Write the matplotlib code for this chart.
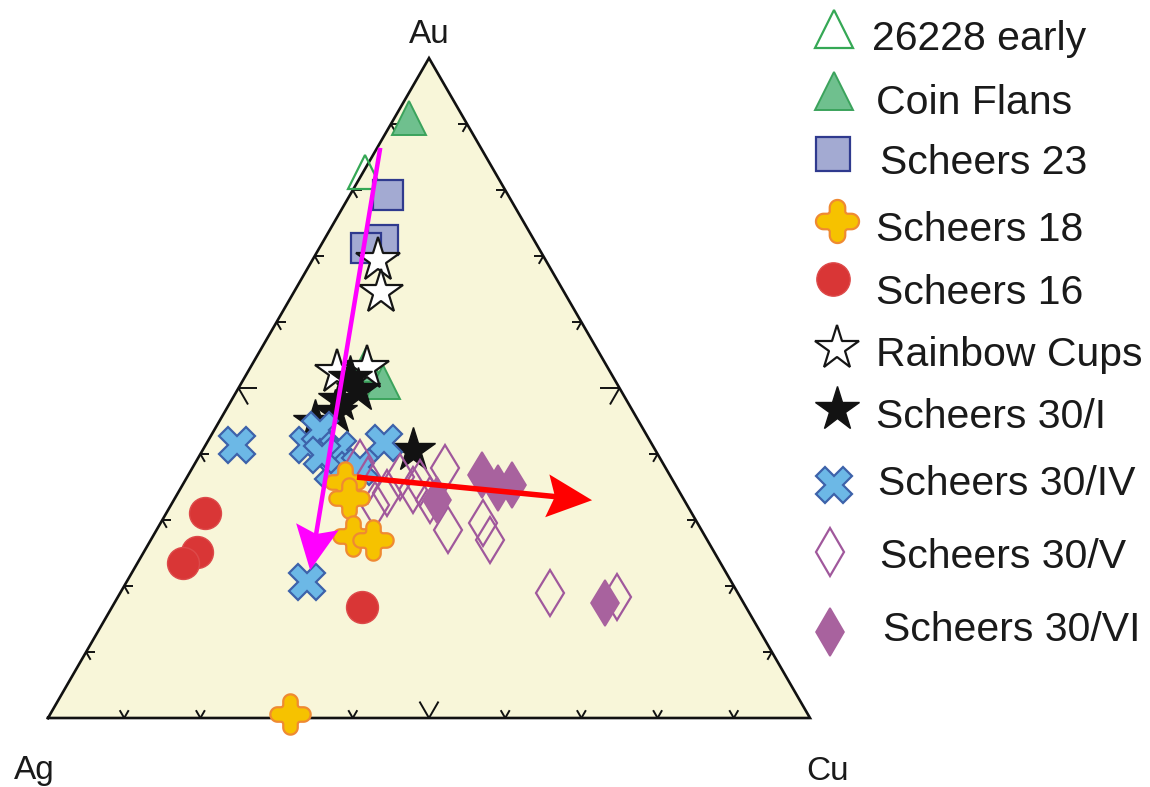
import numpy as np
import matplotlib
matplotlib.use("Agg")
import matplotlib.pyplot as plt
from matplotlib.path import Path

plt.rcParams['font.family'] = ['Liberation Sans', 'DejaVu Sans']

# compositions in % : Au and Cu, Ag is whatever is left
early_au = [82.7]
early_cu = [0.3]

flans_au = [90.9, 53.5, 50.9]
flans_cu = [1.9, 15.0, 18.5]

s23_au = [79.2, 72.4, 71.2]
s23_cu = [5.0, 7.8, 6.1]

cups_au = [69.4, 64.5, 52.4, 53.0]
cups_cu = [8.6, 11.4, 11.7, 15.4]

s30i_au = [51.5, 48.2, 46.4, 44.8, 40.6, 49.7]
s30i_cu = [13.9, 14.2, 14.5, 12.6, 27.6, 15.8]

s30iv_au = [41.4, 41.4, 43.6, 40.6, 41.7, 37.6, 38.0, 20.6, 39.8]
s30iv_cu = [4.1, 13.4, 13.9, 17.8, 23.2, 18.6, 21.9, 23.7, 16.1]

s30v_au = [38.6, 34.1, 36.5, 34.5, 35.6, 37.9, 28.5, 29.5, 27.0, 18.9, 18.3, 32.3, 33.0, 36.1]
s30v_cu = [21.6, 27.5, 27.9, 30.6, 31.0, 33.2, 38.2, 42.3, 44.5, 56.4, 65.5, 26.8, 33.6, 23.9]

s30vi_au = [33.0, 36.8, 34.8, 35.3, 17.4]
s30vi_cu = [34.5, 38.6, 41.7, 43.2, 64.4]

s18_au = [0.6, 35.8, 33.3, 27.6, 27.0]
s18_cu = [31.5, 21.1, 22.9, 26.2, 29.2]

s16_au = [31.1, 25.2, 23.5, 16.8]
s16_cu = [5.0, 7.0, 6.0, 32.8]

# trend arrows (tail -> head), Au / Cu %
mag_au = [86.4, 22.4]
mag_cu = [0.4, 23.2]
red_au = [36.5, 33.0]
red_cu = [22.3, 54.9]

ticks = [10, 20, 30, 40, 50, 60, 70, 80, 90]

H = np.sqrt(3) / 2
PX = 1 / 762.0


def tern(au, cu):
    au = np.asarray(au, float) / 100
    cu = np.asarray(cu, float) / 100
    return cu + au / 2, au * H


def round_cross(w=0.18, f=0.06, n=24):
    # cross with round arm tips and filleted inner corners
    pts = []
    for k in range(4):
        rot = k * np.pi / 2
        c, s = np.cos(rot), np.sin(rot)
        seg = []
        # tip arc of the arm pointing along +x
        a = np.linspace(-np.pi / 2, np.pi / 2, n)
        seg += list(zip(0.5 - w + w * np.cos(a), w * np.sin(a)))
        # concave fillet between this arm and the next one
        a = np.linspace(-np.pi / 2, -np.pi, n // 2)
        seg += list(zip(w + f + f * np.cos(a), w + f + f * np.sin(a)))
        pts += [(x * c - y * s, x * s + y * c) for x, y in seg]
    pts.append(pts[0])
    return Path(np.array(pts), closed=True)


blob = round_cross()

series = [
    ('26228 early', early_au, early_cu,
     dict(marker='^', ms=25, mfc='none', mec='#35a855', mew=1.6)),
    ('Coin Flans', flans_au, flans_cu,
     dict(marker='^', ms=24, mfc='#6fc08e', mec='#3ba35c', mew=1.4)),
    ('Scheers 23', s23_au, s23_cu,
     dict(marker='s', ms=22, mfc='#a3aad2', mec='#2f3a8e', mew=1.6)),
    ('Rainbow Cups', cups_au, cups_cu,
     dict(marker='*', ms=33, mfc='white', mec='#151515', mew=1.6)),
    ('Scheers 30/I', s30i_au, s30i_cu,
     dict(marker='*', ms=33, mfc='#121212', mec='#121212', mew=1.0)),
    ('Scheers 30/IV', s30iv_au, s30iv_cu,
     dict(marker='X', ms=26, mfc='#6cb8e6', mec='#3d62aa', mew=1.6)),
    ('Scheers 30/V', s30v_au, s30v_cu,
     dict(marker='d', ms=23, mfc='none', mec='#a0589c', mew=1.6)),
    ('Scheers 30/VI', s30vi_au, s30vi_cu,
     dict(marker='d', ms=23, mfc='#a8629e', mec='#a8629e', mew=1.2)),
    ('Scheers 18', s18_au, s18_cu,
     dict(marker=blob, ms=29, mfc='#f6c200', mec='#ef8a32', mew=1.6)),
    ('Scheers 16', s16_au, s16_cu,
     dict(marker='o', ms=23, mfc='#d93636', mec='#dd4a4a', mew=1.0)),
]

fig = plt.figure(figsize=(11.5, 7.87), dpi=100)
ax = fig.add_axes([0, 0, 1, 1])
ax.set_xlim(-48 * PX, 1102 * PX)
ax.set_ylim(-69 * PX, 718 * PX)
ax.axis('off')

# triangle
tri_x = [0, 1, 0.5, 0]
tri_y = [0, 0, H, 0]
ax.fill(tri_x, tri_y, color='#f8f6d9', zorder=0)
ax.plot(tri_x, tri_y, color='#111111', lw=1.9, zorder=1, solid_joinstyle='miter')

# ticks: two short arms along the directions of the other two sides
edges = [
    (lambda f: (f, 0.0), (60, 120)),              # Ag-Cu
    (lambda f: (f / 2, f * H), (0, -60)),         # Ag-Au
    (lambda f: (1 - f / 2, f * H), (180, 240)),   # Cu-Au
]
for t in ticks:
    L = (19 if t == 50 else 9) * PX
    for pos, angs in edges:
        px0, py0 = pos(t / 100)
        for a in angs:
            r = np.deg2rad(a)
            ax.plot([px0, px0 + L * np.cos(r)], [py0, py0 + L * np.sin(r)],
                    color='#111111', lw=1.4, zorder=1, solid_capstyle='butt')

for i, (name, au, cu, st) in enumerate(series):
    x, y = tern(au, cu)
    ax.plot(x, y, ls='none', zorder=2 + i * 0.1, **st)

# trend arrows
for au, cu, col, lw, hl in [(mag_au, mag_cu, '#ff00ff', 4.5, 44),
                            (red_au, red_cu, '#ff0000', 5.5, 45)]:
    x, y = tern(au, cu)
    ax.arrow(x[0], y[0], x[1] - x[0], y[1] - y[0], width=lw * PX,
             head_width=43 * PX, head_length=hl * PX, overhang=0.15,
             length_includes_head=True, color=col, lw=0, zorder=5)

# vertex labels
ax.text(0.5, H + 24 * PX, 'Au', ha='center', va='center', fontsize=24, color='#1a1a1a')
ax.text(-14 * PX, -53 * PX, 'Ag', ha='center', va='center', fontsize=24, color='#1a1a1a')
ax.text(1 + 18 * PX, -53 * PX, 'Cu', ha='center', va='center', fontsize=24, color='#1a1a1a')

# legend, laid out by hand
legend_order = ['26228 early', 'Coin Flans', 'Scheers 23', 'Scheers 18', 'Scheers 16',
                'Rainbow Cups', 'Scheers 30/I', 'Scheers 30/IV', 'Scheers 30/V',
                'Scheers 30/VI']
marker_pos = [(834, 29), (834, 91), (833, 154), (837, 221), (833, 279),
              (837, 348), (837, 409), (834, 485), (830, 552), (830, 632)]
text_pos = [(872, 39), (876, 103), (880, 163), (876, 230), (876, 293),
            (876, 355), (876, 417), (878, 484), (880, 557), (883, 630)]
legend_size = {'^': 27, 's': 24, 'o': 24, '*': 33, 'X': 26, 'd': 24}
lookup = {s[0]: s[3] for s in series}
for name, (mx, my), (tx, ty) in zip(legend_order, marker_pos, text_pos):
    st = dict(lookup[name])
    st['ms'] = legend_size[st['marker']] if isinstance(st['marker'], str) else 31
    ax.plot([mx / 1150], [1 - my / 787], transform=fig.transFigure,
            clip_on=False, ls='none', **st)
    fig.text(tx / 1150, 1 - ty / 787, name, ha='left', va='center',
             fontsize=29.5, color='#1a1a1a')

fig.savefig('out.png', dpi=100)
